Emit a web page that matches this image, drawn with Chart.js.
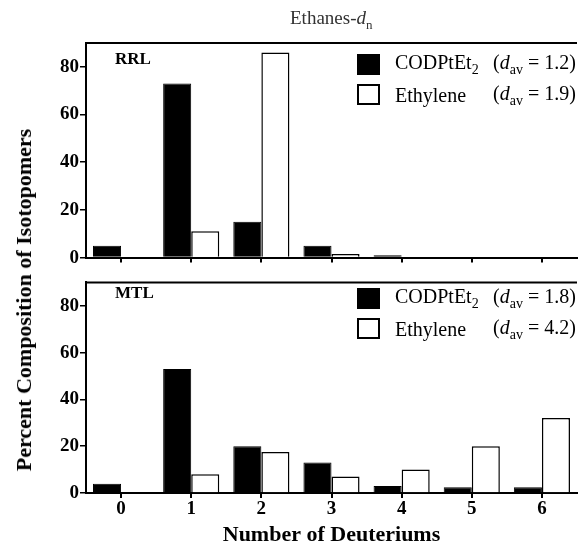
<!DOCTYPE html>
<html>
<head>
<meta charset="utf-8">
<script src="https://cdn.jsdelivr.net/npm/chart.js@4/dist/chart.umd.min.js"></script>
<style>
  body { margin: 0; background: #fff; }
  #wrap { position: relative; width: 579px; height: 556px; font-family: 'Liberation Serif', serif; color: #000; }
  canvas { position: absolute; left: 0; }
  .txt { position: absolute; white-space: nowrap; line-height: 1; }
  .box { position: absolute; width: 23px; height: 21px; box-sizing: border-box; border: 2px solid #000; }
  .leg { font-size: 20px; transform: translateY(-50%); }
  .leg sub { font-size: 14px; vertical-align: -5px; }
  .bold { font-weight: bold; }
</style>
</head>
<body>
<div id="wrap">
  <canvas id="rrl"></canvas>
  <canvas id="mtl"></canvas>

  <div class="txt" style="left:290px; top:8px; font-size:19px; color:#333;">Ethanes-<i>d</i><sub style="font-size:13px;">n</sub></div>
  <div class="txt bold" style="left:24px; top:300px; font-size:22px; transform: translate(-50%,-50%) rotate(-90deg);">Percent Composition of Isotopomers</div>

  <div class="txt bold" style="left:115px; top:50px; font-size:17px;">RRL</div>
  <div class="box" style="left:357px; top:54px; background:#000;"></div>
  <div class="txt leg" style="left:395px; top:64px;">CODPtEt<sub>2</sub></div>
  <div class="txt leg" style="left:493px; top:64px;">(<i>d</i><sub>av</sub> = 1.2)</div>
  <div class="box" style="left:357px; top:84px; background:#fff;"></div>
  <div class="txt leg" style="left:395px; top:95px;">Ethylene</div>
  <div class="txt leg" style="left:493px; top:95px;">(<i>d</i><sub>av</sub> = 1.9)</div>

  <div class="txt bold" style="left:115px; top:284px; font-size:17px;">MTL</div>
  <div class="box" style="left:357px; top:288px; background:#000;"></div>
  <div class="txt leg" style="left:395px; top:298px;">CODPtEt<sub>2</sub></div>
  <div class="txt leg" style="left:493px; top:298px;">(<i>d</i><sub>av</sub> = 1.8)</div>
  <div class="box" style="left:357px; top:318px; background:#fff;"></div>
  <div class="txt leg" style="left:395px; top:329px;">Ethylene</div>
  <div class="txt leg" style="left:493px; top:329px;">(<i>d</i><sub>av</sub> = 4.2)</div>
</div>

<script>
// Number of deuteriums (x categories)
const deuteriums = ['0', '1', '2', '3', '4', '5', '6'];

// RRL panel, percent composition
const rrlCod = [5, 73, 15, 5, 1, 0, 0];
const rrlEthylene = [0, 11, 86, 1.5, 0, 0, 0];

// MTL panel, percent composition
const mtlCod = [4, 53, 20, 13, 3, 2.5, 2.5];
const mtlEthylene = [0, 8, 17.5, 7, 10, 20, 32];

const yMax = 90;
const yLabelStep = 20;

Chart.defaults.font.family = "'Liberation Serif', serif";
Chart.defaults.color = '#000';

// line along the top of the plot area
const topLine = {
    id: 'topLine',
    afterDraw(chart) {
        const { ctx, chartArea } = chart;
        ctx.save();
        ctx.strokeStyle = '#000';
        ctx.lineWidth = 2;
        ctx.beginPath();
        ctx.moveTo(chartArea.left, chartArea.top);
        ctx.lineTo(chartArea.right, chartArea.top);
        ctx.stroke();
        ctx.restore();
    }
};

function makePanel(id, top, height, padTop, xHeight, cod, eth, showLabels) {
    const el = document.getElementById(id);
    el.style.top = top + 'px';
    el.style.width = '579px';
    el.style.height = height + 'px';
    return new Chart(el, {
        type: 'bar',
        data: {
            labels: deuteriums,
            datasets: [{
                label: 'CODPtEt2',
                data: cod,
                backgroundColor: '#000',
                borderColor: '#000',
                borderWidth: 1
            }, {
                label: 'Ethylene',
                data: eth,
                backgroundColor: '#fff',
                borderColor: '#000',
                borderWidth: 1.5
            }]
        },
        options: {
            responsive: false,
            animation: false,
            devicePixelRatio: 1,
            layout: { padding: { top: padTop, right: 2, left: 0, bottom: 0 } },
            datasets: { bar: { categoryPercentage: 0.8, barPercentage: 1.0 } },
            plugins: { legend: { display: false }, tooltip: { enabled: false } },
            scales: {
                x: {
                    grid: { offset: false, drawOnChartArea: false, tickLength: 5, color: '#000', lineWidth: 2 },
                    border: { color: '#000', width: 2 },
                    ticks: { display: showLabels, padding: 0, font: { size: 19, weight: 'bold' } },
                    title: {
                        display: showLabels,
                        text: 'Number of Deuteriums',
                        font: { size: 22, weight: 'bold' },
                        padding: { top: 0, bottom: 7 }
                    },
                    afterFit(s) { s.height = xHeight; }
                },
                y: {
                    min: 0,
                    max: yMax,
                    grid: { drawOnChartArea: false, tickLength: 6, color: '#000', lineWidth: 1.5 },
                    border: { color: '#000', width: 2 },
                    ticks: {
                        stepSize: 10,
                        padding: 1,
                        font: { size: 19, weight: 'bold' },
                        callback: v => (v % yLabelStep === 0 && v < yMax) ? v : ''
                    },
                    afterFit(s) { s.width = 86; }
                }
            }
        },
        plugins: [topLine]
    });
}

makePanel('rrl', 0, 270, 43, 10, rrlCod, rrlEthylene, false);
makePanel('mtl', 270, 286, 7, 63, mtlCod, mtlEthylene, true);
</script>
</body>
</html>
